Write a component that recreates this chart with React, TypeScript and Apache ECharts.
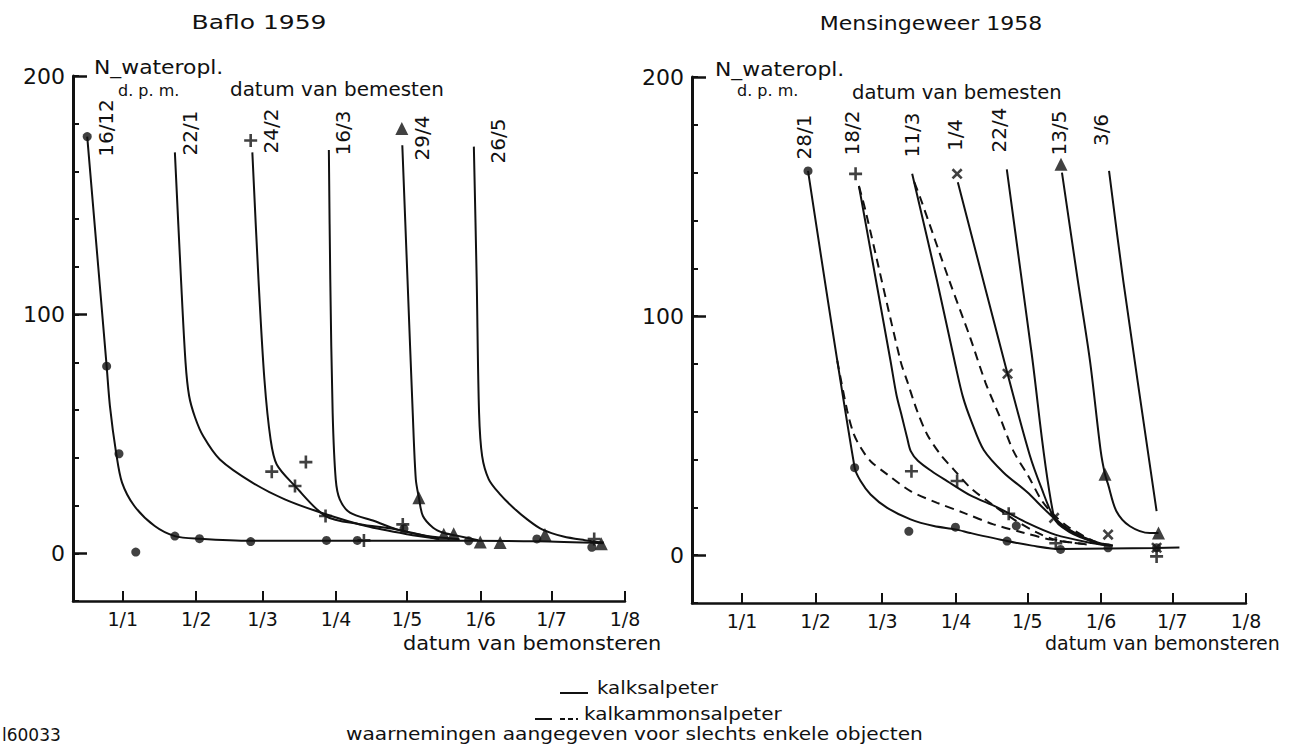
import React, { useEffect, useRef } from 'react';
import * as echarts from 'echarts';

// ---------- axes ----------
const monthTickDays = [0, 31, 59, 90, 120, 151, 181, 212]; // days since 1 Jan
const monthTickLabels = ['1/1', '1/2', '1/3', '1/4', '1/5', '1/6', '1/7', '1/8'];
const yLabelValues = [0, 100, 200];

// ---------- Baflo 1959 (x = days since 1 Jan 1959, y = N water-soluble ppm) ----------
const baflo1612 = [[-15, 174.6], [-6.8, 78.4], [-5.4, 61.6], [-2.8, 42.1], [-0.3, 29.6], [4.9, 19.8], [13.5, 11.4], [22, 7.2], [32.4, 6.1], [54, 5.2], [86, 5.2], [99, 5.2], [146, 5.2], [175, 5], [203, 4.2]];
const baflo221 = [[22, 168], [24.6, 114.6], [26.5, 80], [28, 66], [30.5, 57], [34, 49], [41, 39.3], [54.7, 29.6], [68.4, 22.6], [83.8, 17], [102.7, 11.4], [120, 8], [133.6, 6]];
const baflo242 = [[54.7, 168], [57.3, 114.6], [59.8, 72.8], [62.4, 47.7], [65, 37.2], [72.7, 28.2], [85.6, 15.6], [100, 12.2], [115.6, 10], [133, 6]];
const baflo163 = [[87, 169], [87.6, 114.6], [88.6, 58.9], [89.9, 31], [91.6, 22.6], [95.9, 17], [106.2, 13.5], [115.6, 10], [128.5, 7.2], [142, 5.9]];
const baflo294 = [[118, 171], [120.2, 114.6], [122.4, 58.9], [123.7, 31], [125, 23.3], [126.7, 15.6], [131, 10.7], [135.3, 8.6], [140.5, 7.5], [150, 5.5]];
const baflo265 = [[148.2, 170.4], [149.4, 114.6], [150.4, 58.9], [151.7, 40.7], [154.5, 31], [159, 25], [165, 19], [171, 14], [177, 10], [186, 7], [195, 5.5], [203, 4.5]];

const bafloDots = [[-15, 174.6], [-6.8, 78.4], [-1.6, 41.7], [5.5, 0.5], [22, 7.2], [32.4, 6.1], [54, 4.9], [86, 5.4], [99, 5.4], [118.7, 10.3], [146, 5.2], [174.8, 6], [198, 2.5]];
const bafloPlus = [[54, 173], [62.9, 34.2], [72.7, 28.2], [77.3, 38.2], [85.6, 15.6], [101.8, 5.4], [118.2, 12.1], [199, 6]];
const bafloTri = [[117.8, 178], [125, 23.3], [135.5, 8], [139.7, 8.2], [150.9, 4.7], [159.3, 4.5], [178.2, 7.9], [202, 4]];

// ---------- Mensingeweer 1958 ----------
const mens281 = [[27.8, 160.7], [47.4, 36.6], [49.9, 31], [54.1, 25.4], [61.1, 19.8], [70.9, 15], [80.7, 12.2], [89.8, 10.8], [96, 9.3], [111.5, 5.9], [122, 4], [134, 2.6], [154, 2.8], [174.4, 3], [184, 3.2]];
const mens281Dash = [[40.1, 81.3], [44.3, 60.3], [47.1, 50.5], [50, 44.9], [54.1, 39.3], [61.1, 33.8], [70.9, 26.8], [82.1, 21.9], [93.3, 17.7], [105.8, 12.9], [118, 9.5], [130, 6.5], [145, 4.5]];
const mens182 = [[49.2, 154.4], [62.5, 81.2], [65, 67], [67.4, 57.5], [69.5, 49], [71, 43.5], [74, 39.5], [80, 35], [86.3, 31], [96.1, 25], [107.4, 20], [120, 13.5], [131.7, 8.6], [147, 5.1], [155, 4]];
const mens182Dash = [[49.2, 154.4], [52, 144], [66.7, 81.2], [69.5, 72.8], [73.7, 60.3], [77.9, 50.5], [83.5, 42.1], [89.1, 35.8], [96.1, 28.2], [105.6, 21], [114.3, 15], [124, 9.5], [131.7, 6.5], [145, 4.5]];
const mens113 = [[71.6, 159.5], [82.1, 114.6], [89.9, 79], [93, 66], [96.5, 56], [101.7, 44], [110.1, 34.5], [119.8, 26.5], [129.6, 17], [138, 10.5], [149.2, 5], [156, 4]];
const mens113Dash = [[72.5, 156], [75, 149.5], [87.3, 114.6], [96, 91], [102.5, 72], [108.6, 57.5], [114.2, 43.5], [120.5, 33], [126, 23], [131, 17], [137, 12], [147.8, 6], [155, 4]];
const mens14 = [[90.8, 156], [111.7, 75.9], [121, 42], [126, 28], [131.3, 15.6], [136.6, 11], [147.8, 5.9], [156, 4]];
const mens224 = [[111.4, 161.4], [121.7, 85.5], [131.3, 15.6], [138, 9.5], [148, 5.5]];
const mens135 = [[134.6, 160], [141.3, 114.6], [146.4, 81.2], [150.9, 43.5], [152.7, 33.8], [154, 29.6], [157.5, 18.4], [163.2, 12.1], [171.6, 9.3], [175.2, 9.3]];
const mens36 = [[154.4, 160.7], [160.4, 114.6], [174.4, 18.4]];

const mensDots = [[27.8, 160.7], [47.4, 36.6], [70.2, 10], [89.8, 11.7], [111.5, 5.9], [115.4, 12.3], [134, 2.4], [154, 3.1], [174.4, 3.1]];
const mensPlus = [[47.8, 159.5], [71.3, 35.1], [90.5, 31], [112.2, 17.3], [132, 5], [174.4, -0.5]];
const mensCross = [[90.5, 159.5], [111.7, 75.9], [131.3, 15.6], [154, 8.6], [174.4, 3.1]];
const mensTri = [[134.2, 163.5], [152.7, 33.8], [175.2, 9.3]];

// ---------- texts ----------
const bafloDateLabels = ['16/12', '22/1', '24/2', '16/3', '29/4', '26/5'];
const mensDateLabels = ['28/1', '18/2', '11/3', '1/4', '22/4', '13/5', '3/6'];

const FONT = 'DejaVu Sans';
const INK = '#111';
const PLUS = 'path://M4,0H6V4H10V6H6V10H4V6H0V4H4Z';

function axesFor(g: number) {
  const x = {
    type: 'value', gridIndex: g, min: -21, max: 212,
    axisLine: { show: true, onZero: false, lineStyle: { color: INK, width: 2.5 } },
    axisTick: { show: true, inside: true, length: 10, customValues: monthTickDays, lineStyle: { color: INK, width: 2 } },
    axisLabel: {
      show: true, customValues: monthTickDays, margin: 8, fontSize: 19, fontFamily: FONT, color: INK,
      formatter: (v: number) => { const i = monthTickDays.indexOf(Math.round(v)); return i >= 0 ? monthTickLabels[i] : ''; },
    },
    splitLine: { show: false },
  };
  const yMain = {
    type: 'value', gridIndex: g, min: -20, max: 200, position: 'left',
    axisLine: { show: true, onZero: false, lineStyle: { color: INK, width: 3 } },
    axisTick: { show: true, inside: true, length: 14, customValues: yLabelValues, lineStyle: { color: INK, width: 2.5 } },
    axisLabel: { show: true, customValues: yLabelValues, margin: 8, fontSize: 22, fontFamily: FONT, color: INK },
    splitLine: { show: false },
  };
  const yMinor = {
    type: 'value', gridIndex: g, min: -20, max: 200, interval: 20, position: 'left', offset: 0,
    axisLine: { show: false, onZero: false },
    axisTick: { show: true, inside: true, length: 6, lineStyle: { color: INK, width: 2 } },
    axisLabel: { show: false },
    splitLine: { show: false },
  };
  return { x, ys: [yMain, yMinor] };
}

function line(g: number, data: number[][], dashed = false) {
  return {
    type: 'line', xAxisIndex: g, yAxisIndex: g * 2, data, showSymbol: false, smooth: 0.3,
    silent: true, z: 2,
    lineStyle: { color: INK, width: 2, type: dashed ? [9, 6] : 'solid' },
  };
}

function marks(g: number, data: number[][], symbol: string, size: number, rotate = 0) {
  return {
    type: 'scatter', xAxisIndex: g, yAxisIndex: g * 2, data, symbol, symbolSize: size, symbolRotate: rotate,
    symbolKeepAspect: true, silent: true, z: 3, itemStyle: { color: INK },
  };
}

function txt(text: string, x: number, y: number, fontSize: number, opts: any = {}) {
  return {
    type: 'text', x, y, rotation: opts.rotation || 0, scaleX: opts.scaleX || 1, silent: true,
    style: {
      text, fill: INK, fontSize, fontFamily: FONT,
      textAlign: opts.align || 'left', textVerticalAlign: 'middle',
    },
  };
}

export default function App() {
  const ref = useRef<HTMLDivElement>(null);
  useEffect(() => {
    if (!ref.current) return;
    const chart = echarts.init(ref.current, null, { renderer: 'svg' });
    const a0 = axesFor(0);
    const a1 = axesFor(1);

    const bafloLabelPos = [[106, 128], [190, 133], [271, 131], [343, 133], [422, 138], [498, 141]];
    const mensLabelPos = [[804, 137], [852, 133], [912, 135], [955, 135], [999, 130], [1059, 133], [1101, 130]];

    const graphics: any[] = [
      txt('Baflo 1959', 259, 22, 20, { align: 'center', scaleX: 1.25 }),
      txt('N_wateropl.', 94, 68, 19, { scaleX: 1.15 }),
      txt('d. p. m.', 118, 90, 16),
      txt('datum van bemesten', 230, 90, 19, { scaleX: 1.05 }),
      txt('datum van bemonsteren', 403, 643, 19, { scaleX: 1.1 }),
      txt('Mensingeweer 1958', 931, 23, 20, { align: 'center', scaleX: 1.1 }),
      txt('N_wateropl.', 715, 70, 19, { scaleX: 1.15 }),
      txt('d. p. m.', 737, 90, 16),
      txt('datum van bemesten', 852, 93, 19, { scaleX: 1.03 }),
      txt('datum van bemonsteren', 1045, 643, 19),
      // legend
      { type: 'line', silent: true, shape: { x1: 560, y1: 693, x2: 588, y2: 693 }, style: { stroke: INK, lineWidth: 2 } },
      txt('kalksalpeter', 597, 687, 18, { scaleX: 1.1 }),
      { type: 'line', silent: true, shape: { x1: 535, y1: 719, x2: 552, y2: 719 }, style: { stroke: INK, lineWidth: 2 } },
      { type: 'line', silent: true, shape: { x1: 560, y1: 719, x2: 578, y2: 719 }, style: { stroke: INK, lineWidth: 2, lineDash: [5, 3] } },
      txt('kalkammonsalpeter', 584, 713, 18, { scaleX: 1.11 }),
      txt('waarnemingen aangegeven voor slechts enkele objecten', 346, 734, 18, { scaleX: 1.12 }),
      txt('l60033', 2, 735, 17),
    ];
    bafloDateLabels.forEach((t, i) => graphics.push(txt(t, bafloLabelPos[i][0], bafloLabelPos[i][1], 20, { align: 'center', rotation: Math.PI / 2 })));
    mensDateLabels.forEach((t, i) => graphics.push(txt(t, mensLabelPos[i][0], mensLabelPos[i][1], 20, { align: 'center', rotation: Math.PI / 2 })));

    chart.setOption({
      animation: false,
      backgroundColor: '#fff',
      grid: [
        { left: 73, top: 76, width: 552, height: 525 },
        { left: 692, top: 77, width: 554, height: 526 },
      ],
      xAxis: [a0.x, a1.x],
      yAxis: [...a0.ys, ...a1.ys],
      series: [
        line(0, baflo1612), line(0, baflo221), line(0, baflo242), line(0, baflo163), line(0, baflo294), line(0, baflo265),
        marks(0, bafloDots, 'circle', 9), marks(0, bafloPlus, PLUS, 13), marks(0, bafloTri, 'triangle', 13),
        line(1, mens281), line(1, mens281Dash, true), line(1, mens182), line(1, mens182Dash, true),
        line(1, mens113), line(1, mens113Dash, true), line(1, mens14), line(1, mens224), line(1, mens135), line(1, mens36),
        marks(1, mensDots, 'circle', 9), marks(1, mensPlus, PLUS, 13), marks(1, mensCross, PLUS, 13, 45), marks(1, mensTri, 'triangle', 13),
      ],
      graphic: graphics,
    });
    return () => chart.dispose();
  }, []);
  return <div ref={ref} style={{ position: 'fixed', left: 0, top: 0, width: 1291, height: 747, background: '#fff' }} />;
}
